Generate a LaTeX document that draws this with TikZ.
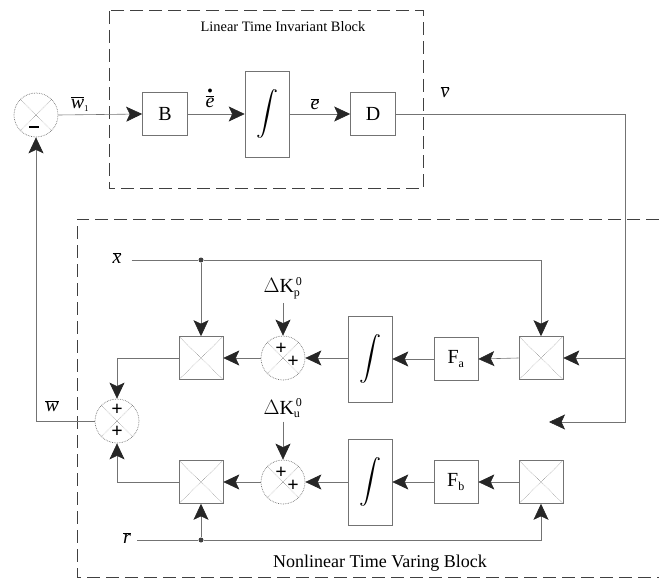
\documentclass[tikz,border=0pt]{standalone}
\usepackage{fontspec}
\setmainfont{Liberation Serif}
\usepackage{graphicx}
\usetikzlibrary{arrows.meta,calc}
\newcommand{\barv}[1]{$\overline{\hbox{\itshape #1}}$}
\newcommand{\intsym}{\scalebox{2.2}{$\displaystyle\int$}}
\begin{document}
\begin{tikzpicture}[x=1pt,y=-1pt,
  ln/.style={draw=black!55, line width=0.6pt},
  arr/.style={ln, -{Stealth[length=16pt,width=15pt,inset=3.5pt,black!85]}},
  blkbox/.style={draw=black!55, line width=0.6pt, minimum width=45pt, minimum height=43pt, inner sep=0pt, font=\fontsize{20}{24}\selectfont},
  intbox/.style={blkbox, minimum width=44pt, minimum height=86pt},
  mulbox/.style={blkbox, minimum width=44pt, minimum height=43pt,
    path picture={\draw[black!50, densely dotted, line width=0.5pt]
      (path picture bounding box.north west) -- (path picture bounding box.south east)
      (path picture bounding box.north east) -- (path picture bounding box.south west);}},
  sumc/.style={circle, draw=black!55, densely dotted, line width=0.7pt, minimum size=44pt, inner sep=0pt,
    path picture={\draw[black!50, densely dotted, line width=0.5pt]
      (path picture bounding box.north west) -- (path picture bounding box.south east)
      (path picture bounding box.north east) -- (path picture bounding box.south west);}},
  sgn/.style={font=\fontsize{20}{20}\selectfont\bfseries, inner sep=0pt},
  lbl/.style={font=\fontsize{20}{24}\selectfont, inner sep=0pt},
  ttl/.style={inner sep=0pt},
  dsh/.style={draw=black!75, line width=1pt, dash pattern=on 13pt off 6pt},
  dotc/.style={circle, fill=black!75, inner sep=0pt, minimum size=5pt}
]
\useasboundingbox (0,0) rectangle (659,583);

% dashed blocks
\draw[dsh] (109,11) rectangle (423,189);
\node[ttl, font=\fontsize{14.4}{16}\selectfont] (ltit) at (283,27) {Linear Time Invariant Block};
\draw[dsh] (659,219) -- (77,219) -- (77,577) -- (659,577);
\node[ttl, font=\fontsize{18}{20}\selectfont] (ntit) at (380,563) {Nonlinear Time Varing Block};

% top chain
\node[sumc] (s1) at (36,115) {};
\node[sgn] (s1m) at ([shift={(-2,12)}]s1.center) {\rule{10pt}{1.6pt}};
\node[blkbox] (B) at (165,114) {B};
\node[intbox] (i1) at (267,114) {\intsym};
\node[blkbox] (D) at (373,114) {D};

\node[lbl] (w1) at (80,104) {\barv{w}\textsubscript{\small 1}};
\node[lbl] (ed) at (210,98) {$\stackrel{\scriptscriptstyle\bullet}{\overline{\hbox{\itshape e}}}$};
\node[lbl] (eb) at (315,104) {\barv{e}};
\node[lbl] (vb) at (445,92) {\barv{v}};

\coordinate (vc1) at (625,114);
\coordinate (vc2) at (625,422);
\coordinate (vend) at (549,422);

\draw[arr] (s1.east) -- (B.west);
\draw[arr] (B.east) -- (i1.west);
\draw[arr] (i1.east) -- (D.west);
\draw[arr] (D.east) -- (vc1) -- (vc2) -- (vend);

% lower upper row
\node[mulbox] (mtl) at (201,358) {};
\node[sumc] (sp) at (283,358) {};
\node[sgn] at ([shift={(-2,-9)}]sp.center) {+};
\node[sgn] at ([shift={(10,4)}]sp.center) {+};
\node[intbox] (ip) at (370,359) {\intsym};
\node[blkbox, minimum width=44pt] (fa) at (456,359) {F\textsubscript{\fontsize{12}{12}\selectfont a}};
\node[mulbox] (mtr) at (541,358) {};
\node[lbl] (kp) at (283,288) {$\Delta$K\rlap{\textsubscript{\fontsize{12}{12}\selectfont p}}\textsuperscript{\fontsize{12}{12}\selectfont \,0}};

% lower bottom row
\node[mulbox] (mbl) at (201,482) {};
\node[sumc] (su) at (283,482) {};
\node[sgn] at ([shift={(-2,-9)}]su.center) {+};
\node[sgn] at ([shift={(10,4)}]su.center) {+};
\node[intbox] (iu) at (370,482) {\intsym};
\node[blkbox, minimum width=44pt] (fb) at (456,482) {F\textsubscript{\fontsize{12}{12}\selectfont b}};
\node[mulbox] (mbr) at (541,482) {};
\node[lbl] (ku) at (283,408) {$\Delta$K\rlap{\textsubscript{\fontsize{12}{12}\selectfont u}}\textsuperscript{\fontsize{12}{12}\selectfont \,0}};

% output sum
\node[sgn, draw=none] (s2p1) at (117,410) {+};
\node[sgn, draw=none] (s2p2) at (117,432) {+};
\node[sumc] (s2) at (117,421) {};
\node[lbl] (wb) at (52,406) {\barv{w}};

% inputs x and r
\node[lbl] (xl) at (117,258) {\barv{x}};
\node[dotc] (xd) at (201,260) {};
\node[lbl] (rl) at (127,538) {\barv{r}};
\node[dotc] (rd) at (201,540) {};

\draw[ln, shorten <=10pt] (xl.east |- xd) -- (xd);
\draw[arr] (xd) -| (mtr.north);
\draw[arr] (xd) -- (mtl.north);
\draw[ln, line width=1pt, shorten <=6pt] (rl.east |- rd) -- (rd);
\draw[arr] (rd) -| (mbr.south);
\draw[arr] (rd) -- (mbl.south);

% flows
\draw[arr] (vc1 |- mtr.east) -- (mtr.east);
\draw[arr] (mtr.west) -- (fa.east);
\draw[arr] (fa.west) -- (ip.east);
\draw[arr] (ip.west |- sp) -- (sp.east);
\draw[arr] (sp.west) -- (mtl.east);
\draw[arr] (kp.south) ++(0,4) -- (sp.north);

\draw[arr] (mbr.west) -- (fb.east);
\draw[arr] (fb.west) -- (iu.east);
\draw[arr] (iu.west) -- (su.east);
\draw[arr] (su.west) -- (mbl.east);
\draw[arr] (ku.south) ++(0,4) -- (su.north);

\draw[arr] (mtl.west) -| (s2.north);
\draw[arr] (mbl.west) -| (s2.south);
\draw[arr] (s2.west) -| (s1.south);
\end{tikzpicture}
\end{document}
